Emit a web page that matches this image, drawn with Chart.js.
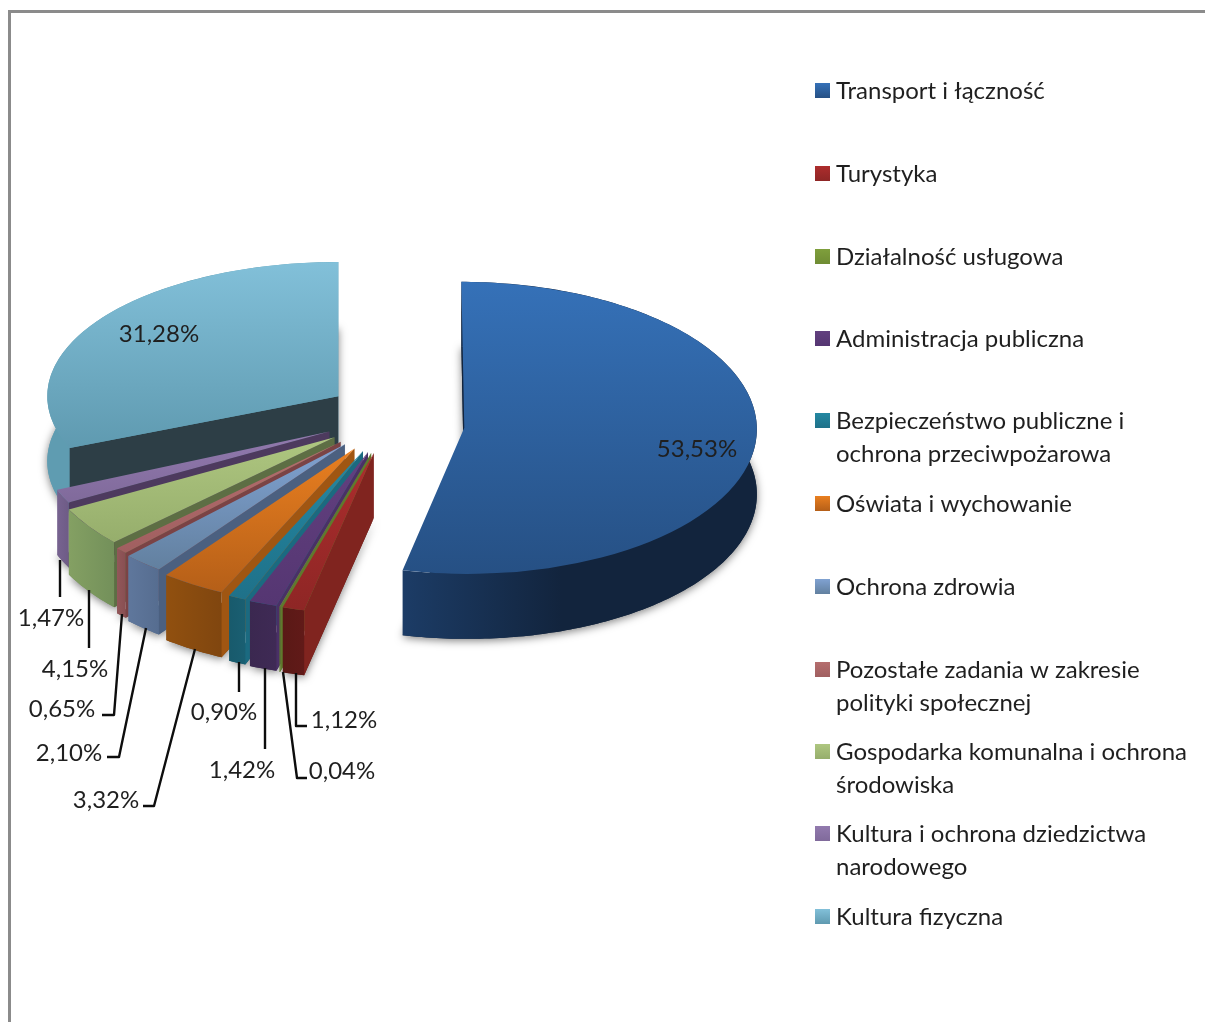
<!DOCTYPE html>
<html lang="pl">
<head>
<meta charset="utf-8">
<title>Wykres</title>
<script src="https://cdn.jsdelivr.net/npm/chart.js@4"></script>
<style>
html,body{margin:0;padding:0;background:#fff;overflow:hidden}
#wrap{position:absolute;left:0;top:0;width:1205px;height:1022px}
#frame{position:absolute;left:8px;top:10px;width:1197px;height:1012px;border-left:3px solid #8b8b8b;border-top:3px solid #8b8b8b;box-sizing:border-box}
canvas{position:absolute;left:0;top:0}
</style>
</head>
<body>
<div id="wrap"><div id="frame"></div><canvas id="c" width="1205" height="1022"></canvas></div>
<script>
// ---------- data ----------
const categories = [
  "Transport i łączność",
  "Turystyka",
  "Działalność usługowa",
  "Administracja publiczna",
  ["Bezpieczeństwo publiczne i", "ochrona przeciwpożarowa"],
  "Oświata i wychowanie",
  "Ochrona zdrowia",
  ["Pozostałe zadania w zakresie", "polityki społecznej"],
  ["Gospodarka komunalna i ochrona", "środowiska"],
  ["Kultura i ochrona dziedzictwa", "narodowego"],
  "Kultura fizyczna"
];
const values = [53.53, 1.12, 0.04, 1.42, 0.90, 3.32, 2.10, 0.65, 4.15, 1.47, 31.28];

// ---------- palette ----------
const topLight  = ["#3571b8","#ad2d2d","#7f9f3c","#62407f","#2488a2","#e97f20","#80a2d2","#b56e6e","#aec680","#927aae","#82c0d9"];
const topDark   = ["#265084","#8e2625","#6f8c34","#553672","#1f7189","#b55f18","#62809f","#a05f60","#96ae6c","#806a9b","#5f9ab0"];
const wallLeft  = ["#1c3c66","#5a1916","#5f7a2c","#3b2850","#185a6c","#91500f","#5f779c","#925759","#84a063","#776390","#5f9cb1"];
const wallRight = ["#12243d","#611a18","#5f7a2c","#3f2a55","#1a5f72","#80460f","#566d90","#884f52","#73905a","#6e5b86","#5f9cb1"];
const sideWall  = ["#12243d","#80241f","#5f7a2c","#4a3066","#1b6a80","#a05612","#4b6080","#7b4345","#5d6e44","#4d3a5e","#2d3e46"];

// ---------- view ----------
const CX = 393, CY = 416, R = 294, EXPLODE = 70, DEPTH = 65;
const FONT = '24px Lato, "Open Sans", sans-serif';
const TEXT = "#1f1f1f";

// placement of the percentage labels (text centre, then optional elbow of the leader)
const labelAt = [
  {x:697,y:449}, {x:344,y:720,elbow:[[296,726],[307,726]]}, {x:342,y:771,elbow:[[297,778],[307,778]]},
  {x:242,y:770,elbow:[[265,749]]}, {x:224,y:712,elbow:[[239,692]]}, {x:106,y:800,elbow:[[154,806],[143,806]]},
  {x:69,y:753,elbow:[[119,757],[107,757]]}, {x:62,y:709,elbow:[[114,715],[102,715]]},
  {x:75,y:669,elbow:[[89,648]]}, {x:51,y:618,elbow:[[60,597]]}, {x:159,y:334}
];
const leaderFrom = [null,[296,673],[283,672],[265,668],[239,662],[195,649],[146,628],[122,614],[89,590],[60,560],null];
const legendRows = [91,174,257,339,421,504,587,670,752,834,917];

const ctx0 = document.getElementById('c').getContext('2d');

function sliceAngles(i){
  const total = values.reduce((a,b)=>a+b,0);
  let acc = 0; for (let j=0;j<i;j++) acc += values[j];
  const a0 = -Math.PI/2 + acc/total*2*Math.PI;
  return [a0, a0 + values[i]/total*2*Math.PI];
}
const topGradients = values.map((_,i)=>{
  const [a0,a1] = sliceAngles(i);
  let lo = Math.min(Math.sin(a0),Math.sin(a1),0), hi = Math.max(Math.sin(a0),Math.sin(a1),0);
  if (a0 < Math.PI/2 && a1 > Math.PI/2) hi = 1;
  if (a0 <= -Math.PI/2) lo = -1;
  if (a1 >= 3*Math.PI/2 - 1e-6) lo = -1;
  const g = ctx0.createLinearGradient(0, CY+lo*R, 0, CY+hi*R);
  g.addColorStop(0, topLight[i]); g.addColorStop(1, topDark[i]);
  return g;
});

// view transform of one exploded slice: slices nearer the viewer appear a little larger
function view(arc,i){
  const m = (arc.startAngle+arc.endAngle)/2, d = Math.sin(m);
  const k = 0.49+0.06*d;
  const base = {ex: EXPLODE*Math.cos(m), ey: EXPLODE*Math.sin(m), k, s: 1+Math.max(0,d-0.4)*0.13, nx:0, ny:0, sh:0};
  if (i===0) { base.s=0.995; base.nx=2; base.ny=8; base.sh=0.02*k; }
  if (i===values.length-1) { base.s=0.99; base.nx=3; base.ny=-2; }
  return base;
}
function proj(arc,i,a,r,dy){
  const v = view(arc,i), X = Math.cos(a)*r+v.ex, Y = Math.sin(a)*r+v.ey;
  return [CX+v.nx+v.s*X+v.sh*Y, CY+v.ny+dy+v.k*Y];
}
function applyView(ctx,arc,i,dy){
  const v = view(arc,i);
  ctx.transform(v.s,0,v.sh,v.k,CX+v.nx,CY+v.ny+dy);
  ctx.translate(v.ex-arc.x, v.ey-arc.y);
}

const pie3d = {
  id:'pie3d',
  beforeDatasetDraw(chart,args){
    const ctx = chart.ctx, arcs = chart.getDatasetMeta(0).data;
    // soft shadow under the extruded body
    arcs.forEach((arc,i)=>{
      ctx.save();
      ctx.shadowColor='rgba(0,0,0,0.5)'; ctx.shadowBlur=9; ctx.shadowOffsetY=2;
      ctx.fillStyle=wallRight[i];
      ctx.beginPath();
      const steps=Math.max(2,Math.ceil((arc.endAngle-arc.startAngle)*60));
      ctx.moveTo(...proj(arc,i,0,0,DEPTH));
      for(let t=0;t<=steps;t++) ctx.lineTo(...proj(arc,i,arc.startAngle+(arc.endAngle-arc.startAngle)*t/steps,R,DEPTH));
      ctx.closePath(); ctx.fill();
      ctx.restore();
    });
    // back to front: last slice first, the big blue one at the end
    const order = arcs.map((_,i)=>i).slice(1).reverse().concat(0);
    order.forEach(i=>{
      const arc = arcs[i], a0=arc.startAngle, a1=arc.endAngle;
      // outer wall
      const steps=Math.max(2,Math.ceil((a1-a0)*60)), up=[], down=[];
      for(let t=0;t<=steps;t++){
        const a=a0+(a1-a0)*t/steps;
        up.push(proj(arc,i,a,R,0)); down.push(proj(arc,i,a,R,DEPTH));
      }
      const xs=up.map(p=>p[0]), g=ctx.createLinearGradient(Math.min(...xs),0,Math.max(...xs),0);
      g.addColorStop(0,wallLeft[i]);
      g.addColorStop(i===0?0.45:1,wallRight[i]);
      if(i===0) g.addColorStop(1,wallRight[i]);
      ctx.fillStyle=g;
      ctx.beginPath();
      up.forEach((p,n)=>n?ctx.lineTo(...p):ctx.moveTo(...p));
      down.reverse().forEach(p=>ctx.lineTo(...p));
      ctx.closePath(); ctx.fill();
      // radial side wall on the start edge
      ctx.fillStyle=sideWall[i];
      ctx.beginPath();
      ctx.moveTo(...proj(arc,i,a0,0,0));
      ctx.lineTo(...proj(arc,i,a0,R,0));
      ctx.lineTo(...proj(arc,i,a0,R,DEPTH));
      ctx.lineTo(...proj(arc,i,a0,0,DEPTH));
      ctx.closePath(); ctx.fill();
      // top face: drawn by the library's arc element
      ctx.save();
      applyView(ctx,arc,i,0);
      arc.draw(ctx);
      ctx.restore();
    });
    return false;
  },
  afterDraw(chart){
    const ctx = chart.ctx;
    ctx.save();
    // leaders
    ctx.strokeStyle='#0d0d0d'; ctx.lineWidth=2.4; ctx.lineJoin='round';
    labelAt.forEach((l,i)=>{
      if(!l.elbow) return;
      ctx.beginPath(); ctx.moveTo(...leaderFrom[i]);
      l.elbow.forEach(p=>ctx.lineTo(...p));
      ctx.stroke();
    });
    // percentage labels
    ctx.font=FONT; ctx.fillStyle=TEXT; ctx.textAlign='center'; ctx.textBaseline='middle';
    values.forEach((v,i)=>{
      ctx.fillText(v.toFixed(2).replace('.',',')+'%', labelAt[i].x, labelAt[i].y);
    });
    // legend
    ctx.textAlign='left';
    categories.forEach((c,i)=>{
      const y=legendRows[i], g=ctx.createLinearGradient(0,y-8,0,y+7);
      g.addColorStop(0,topLight[i]); g.addColorStop(1,topDark[i]);
      ctx.fillStyle=g; ctx.fillRect(815,y-8,15,15);
      ctx.fillStyle=TEXT;
      (Array.isArray(c)?c:[c]).forEach((line,n)=>ctx.fillText(line,836,y+n*33));
    });
    ctx.restore();
  }
};

new Chart(ctx0,{
  type:'pie',
  data:{labels:categories,datasets:[{data:values,backgroundColor:topGradients,borderWidth:0}]},
  options:{
    responsive:false,animation:false,events:[],radius:R,
    layout:{padding:{left:0,top:0,right:1205-2*CX,bottom:1022-2*CY}},
    plugins:{legend:{display:false},tooltip:{enabled:false},title:{display:false}}
  },
  plugins:[pie3d]
});
</script>
</body>
</html>
